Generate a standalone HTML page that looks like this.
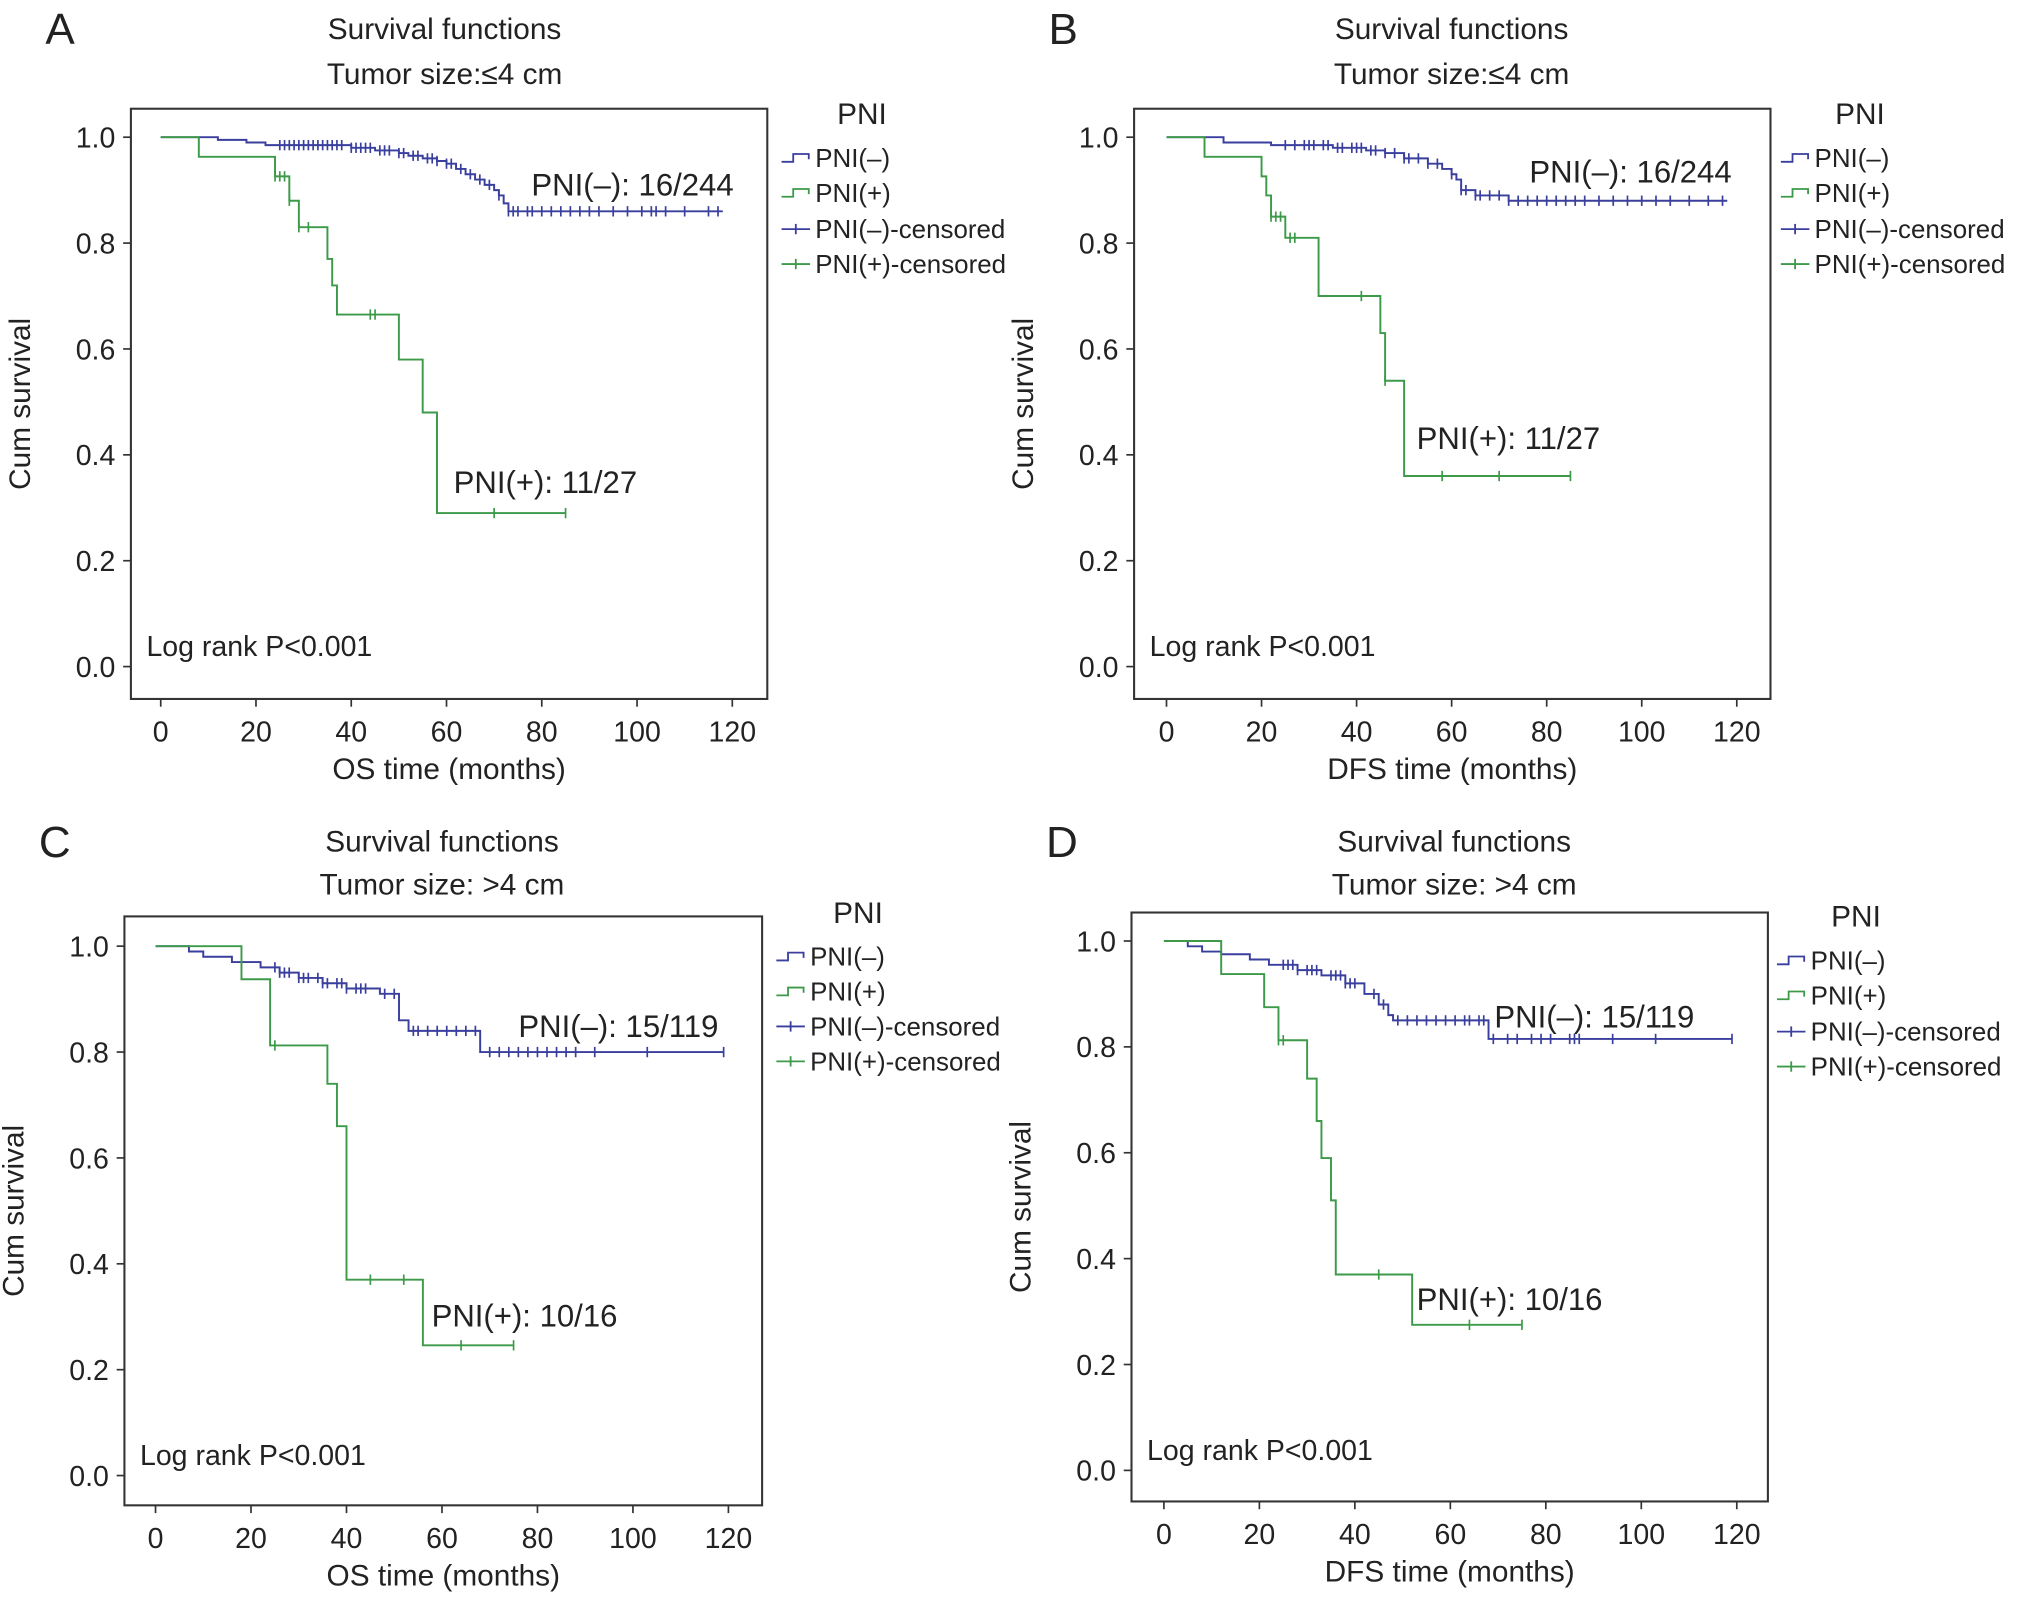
<!DOCTYPE html>
<html><head><meta charset="utf-8"><style>
html,body{margin:0;padding:0;background:#fff}
svg{display:block}
text{font-family:"Liberation Sans",Arial,sans-serif;fill:#222}
</style></head><body>
<svg id="fig" width="2031" height="1605" viewBox="0 0 1567 1240" preserveAspectRatio="none" xmlns="http://www.w3.org/2000/svg"></svg>
<script>
// Panel A data (OS, <=4cm)
const aNegT=[0,12,18,22,40,45,50,52,55,58,60,62,64,66,68,70,71,72,73,118];
const aNegS=[1,0.995,0.99,0.985,0.98,0.975,0.97,0.965,0.96,0.955,0.95,0.94,0.93,0.92,0.91,0.9,0.89,0.875,0.86,0.86];
const aNegC=[25,26,27,28,29,30,31,32,33,34,35,36,37,38,40,41,42,43,44,46,47,48,50,51,53,54,56,57,58,60,61,63,65,67,69,71,73,74,75,77,78,80,82,84,86,88,90,92,95,98,101,103,104,106,110,115,117];
const aPosT=[0,8,24,27,29,35,36,37,50,55,58,85];
const aPosS=[1,0.963,0.926,0.88,0.83,0.77,0.72,0.665,0.58,0.48,0.29,0.29];
const aPosC=[24,25,26,27,29,31,44,45,70,85];
// Panel B data (DFS, <=4cm)
const bNegT=[0,12,22,35,42,46,50,55,58,60,61,62,65,72,118];
const bNegS=[1,0.99,0.985,0.98,0.975,0.97,0.96,0.95,0.94,0.93,0.92,0.9,0.89,0.88,0.88];
const bNegC=[25,27,29,30,31,33,34,36,37,39,40,41,43,44,46,48,50,51,53,55,57,60,62,63,65,66,68,70,72,74,76,78,80,82,84,86,88,91,94,97,100,103,106,110,114,117];
const bPosT=[0,8,20,21,22,25,32,45,46,50,85];
const bPosS=[1,0.963,0.926,0.89,0.85,0.81,0.70,0.63,0.54,0.36,0.36];
const bPosC=[22,23,24,26,27,41,46,58,70,85];
// Panel C data (OS, >4cm)
const cNegT=[0,7,10,16,22,26,30,35,40,47,51,53,68,119];
const cNegS=[1,0.99,0.98,0.97,0.96,0.95,0.94,0.93,0.92,0.91,0.86,0.84,0.80,0.80];
const cNegC=[25,26,27,28,30,31,32,34,35,36,38,39,40,42,43,44,48,50,54,55,57,59,61,63,65,67,70,72,74,76,78,80,82,84,86,88,92,103,119];
const cPosT=[0,18,24,36,38,40,56,75];
const cPosS=[1,0.9375,0.8125,0.74,0.66,0.37,0.246,0.246];
const cPosC=[25,45,52,64,75];
// Panel D data (DFS, >4cm)
const dNegT=[0,5,8,12,18,22,28,33,38,42,45,47,48,68,119];
const dNegS=[1,0.99,0.98,0.975,0.965,0.955,0.945,0.935,0.92,0.9,0.88,0.86,0.85,0.815,0.815];
const dNegC=[25,26,27,28,30,31,32,35,36,37,38,39,40,44,46,49,51,53,55,57,59,61,63,64,66,67,69,72,74,77,79,81,85,86,87,94,103,119];
const dPosT=[0,12,21,24,30,32,33,35,36,52,75];
const dPosS=[1,0.9375,0.875,0.8125,0.74,0.66,0.59,0.51,0.37,0.275,0.275];
const dPosC=[24,25,45,64,75];
// Tick labels
const xTicks=[0,20,40,60,80,100,120];
const yTicks=[0,0.2,0.4,0.6,0.8,1.0];
const yTickLabels=["0.0","0.2","0.4","0.6","0.8","1.0"];
const legendLabels=["PNI(\u2013)","PNI(+)","PNI(\u2013)-censored","PNI(+)-censored"];

const NS="http://www.w3.org/2000/svg";
const svg=document.getElementById('fig');
const BLUE="#3a3f9e",GREEN="#3c9a48";
function el(tag,attrs,parent){const e=document.createElementNS(NS,tag);for(const k in attrs)e.setAttribute(k,attrs[k]);(parent||svg).appendChild(e);return e;}
function txt(s,x,y,size,anchor,parent){const t=el('text',{x:x,y:y,'font-size':size,'text-anchor':anchor||'start'},parent);t.textContent=s;return t;}

const panels=[
 {id:'a',L:'A',box:[101,84,592,540],x0:124,x1:565,y1:106,y0:515,tx:343,ty:[22,57],sub:'Tumor size:\u22644 cm',xt:'OS time (months)',neg:[aNegT,aNegS,aNegC],pos:[aPosT,aPosS,aPosC],negLab:['PNI(\u2013): 16/244',410,143],posLab:['PNI(+): 11/27',350,373],leg:[603,665,88,[122,149,177,204]]},
 {id:'b',L:'B',box:[875,84,1366,540],x0:900,x1:1340,y1:106,y0:515,tx:1120,ty:[22,57],sub:'Tumor size:\u22644 cm',xt:'DFS time (months)',neg:[bNegT,bNegS,bNegC],pos:[bPosT,bPosS,bPosC],negLab:['PNI(\u2013): 16/244',1180,133],posLab:['PNI(+): 11/27',1093,339],leg:[1374,1435,88,[122,149,177,204]]},
 {id:'c',L:'C',box:[96,708,588,1163],x0:120,x1:562,y1:731,y0:1140,tx:341,ty:[650,683],sub:'Tumor size: >4 cm',xt:'OS time (months)',neg:[cNegT,cNegS,cNegC],pos:[cPosT,cPosS,cPosC],negLab:['PNI(\u2013): 15/119',400,793],posLab:['PNI(+): 10/16',333,1017],leg:[599,662,705,[739,766,793,820]]},
 {id:'d',L:'D',box:[873,705,1364,1160],x0:898,x1:1340,y1:727,y0:1136,tx:1122,ty:[650,683],sub:'Tumor size: >4 cm',xt:'DFS time (months)',neg:[dNegT,dNegS,dNegC],pos:[dPosT,dPosS,dPosC],negLab:['PNI(\u2013): 15/119',1153,786],posLab:['PNI(+): 10/16',1093,1004],leg:[1371,1432,708,[742,769,797,824]]}
];

panels.forEach(p=>{
 const g=el('g',{});
 
 
 const sx=v=>p.x0+(p.x1-p.x0)*v/120;
 const sy=v=>p.y0+(p.y1-p.y0)*v;
 const [bx0,by0,bx1,by1]=p.box;
 const lab=txt(p.L,p.box[0]-66,p.ty[0]+12,34,'start',g);
 
 
 const t1=txt('Survival functions',p.tx,p.ty[0]+8,23,'middle',g);
 
 
 const t2=txt(p.sub,p.tx,p.ty[1]+8,23,'middle',g);
 
 
 const box=el('rect',{x:bx0,y:by0,width:bx1-bx0,height:by1-by0,fill:'none',stroke:'#333','stroke-width':1.6},g);
 
 
 yTicks.forEach((v,i)=>{
  el('line',{x1:bx0-6,x2:bx0,y1:sy(v),y2:sy(v),stroke:'#333','stroke-width':1.3},g);
  const t=txt(yTickLabels[i],bx0-12,sy(v)+8,22,'end',g);
  
  
 });
 xTicks.forEach(v=>{
  el('line',{x1:sx(v),x2:sx(v),y1:by1,y2:by1+6,stroke:'#333','stroke-width':1.3},g);
  const t=txt(String(v),sx(v),by1+33,22,'middle',g);
  
  
 });
 const xt=txt(p.xt,(bx0+bx1)/2,by1+62,23,'middle',g);
 
 
 const yx=bx0-78,yy=(by0+by1)/2;
 const yt=txt('Cum survival',0,0,23,'middle',g);
 yt.setAttribute('transform','translate('+yx+','+yy+') rotate(-90)');
 
 
 function curve(T,S,C,color,name){
  let d='M'+sx(T[0])+','+sy(S[0]);
  for(let i=1;i<T.length;i++){d+=' H'+sx(T[i])+' V'+sy(S[i]);}
  const path=el('path',{d:d,fill:'none',stroke:color,'stroke-width':1.5},g);
  
  
  C.forEach(c=>{
   let s=S[0];for(let i=0;i<T.length;i++){if(T[i]<=c)s=S[i];}
   const m=el('line',{x1:sx(c),x2:sx(c),y1:sy(s)-4,y2:sy(s)+4,stroke:color,'stroke-width':1.3},g);
   
   
  });
 }
 curve(p.neg[0],p.neg[1],p.neg[2],BLUE,'pni-neg');
 curve(p.pos[0],p.pos[1],p.pos[2],GREEN,'pni-pos');
 const nl=txt(p.negLab[0],p.negLab[1],p.negLab[2]+8,24,'start',g);
 
 
 const pl=txt(p.posLab[0],p.posLab[1],p.posLab[2]+8,24,'start',g);
 
 
 const lr=txt('Log rank P<0.001',bx0+12,sy(0)-8,22,'start',g);
 
 
 // legend
 const [lx,ptx,pty,ys]=p.leg;
 const lt=txt('PNI',ptx,pty+8,23,'middle',g);
 
 
 ys.forEach((y,i)=>{
  const col=(i%2===0)?BLUE:GREEN;
  if(i<2){
   el('path',{d:'M'+lx+','+(y+3)+' h9 v-6 h12 v4',fill:'none',stroke:col,'stroke-width':1.4},g);
  }else{
   el('line',{x1:lx,x2:lx+22,y1:y,y2:y,stroke:col,'stroke-width':1.4},g);
   el('line',{x1:lx+11,x2:lx+11,y1:y-4,y2:y+4,stroke:col,'stroke-width':1.4},g);
  }
  const e=txt(legendLabels[i],lx+26,y+7,20,'start',g);
  
  
 });
});
</script>
</body></html>
